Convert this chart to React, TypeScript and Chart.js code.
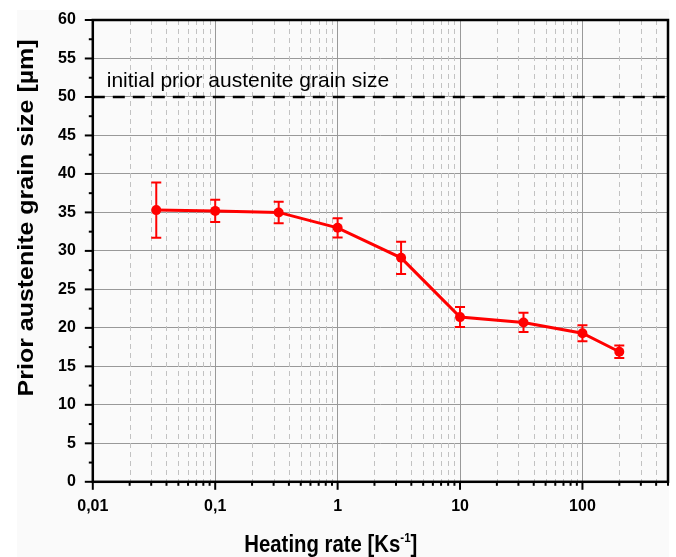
import React, { useEffect, useRef } from 'react';
import { Chart, registerables } from 'chart.js';

Chart.register(...registerables);

// ---- data ----
const heatingRates = [0.033, 0.1, 0.33, 1, 3.3, 10, 33, 100, 200];
const grainSizes = [35.3, 35.2, 35.0, 33.0, 29.1, 21.4, 20.7, 19.3, 16.9];
const grainErrors = [3.6, 1.45, 1.4, 1.25, 2.1, 1.3, 1.25, 1.05, 0.8];
const initialGrainSize = 50;
const initialLabel = 'initial prior austenite grain size';
const xMajorTicks = [0.01, 0.1, 1, 10, 100];
const xTickLabels = ['0,01', '0,1', '1', '10', '100'];
const xMin = 0.01;
const xMax = 500;
const yMin = 0;
const yMax = 60;
const yStep = 5;
const yMinorStep = 2.5;
const xTitleMain = 'Heating rate [Ks';
const xTitleSup = '-1';
const xTitleEnd = ']';
const yTitle = 'Prior austenite grain size [µm]';

const FONT = "'Liberation Sans', Arial, sans-serif";

const xMinorTicks: number[] = [];
xMajorTicks.forEach((d) => {
  for (let m = 2; m <= 9; m++) {
    const v = +(m * d).toPrecision(6);
    if (v <= xMax) xMinorTicks.push(v);
  }
});
const allXTicks = [...xMajorTicks, ...xMinorTicks].sort((a, b) => a - b);

const majorIndex = (v: number) =>
  xMajorTicks.findIndex((m) => Math.abs(Math.log10(v) - Math.log10(m)) < 1e-6);

const decorPlugin = {
  id: 'decor',
  beforeDraw(chart: any) {
    const { ctx, width, height } = chart;
    ctx.save();
    ctx.fillStyle = '#ffffff';
    ctx.fillRect(0, 0, width, height);
    ctx.fillStyle = '#fafafa';
    ctx.fillRect(17, 10, 652, height - 10);
    ctx.restore();
  },
  beforeDatasetsDraw(chart: any) {
    const { ctx, chartArea: a } = chart;
    const x = chart.scales.x;
    ctx.save();
    ctx.strokeStyle = '#c2c2c2';
    ctx.lineWidth = 1;
    ctx.setLineDash([5, 4]);
    for (const v of xMinorTicks) {
      const px = Math.round(x.getPixelForValue(v)) + 0.5;
      ctx.beginPath();
      ctx.moveTo(px, a.top);
      ctx.lineTo(px, a.bottom);
      ctx.stroke();
    }
    ctx.restore();
  },
  afterDatasetsDraw(chart: any) {
    const { ctx, chartArea: a } = chart;
    const x = chart.scales.x;
    const y = chart.scales.y;
    ctx.save();
    // error bars
    ctx.strokeStyle = '#ff0000';
    ctx.lineWidth = 2;
    heatingRates.forEach((hr, i) => {
      const px = x.getPixelForValue(hr);
      const top = y.getPixelForValue(grainSizes[i] + grainErrors[i]);
      const bot = y.getPixelForValue(grainSizes[i] - grainErrors[i]);
      ctx.beginPath();
      ctx.moveTo(px, top);
      ctx.lineTo(px, bot);
      ctx.moveTo(px - 5, top);
      ctx.lineTo(px + 5, top);
      ctx.moveTo(px - 5, bot);
      ctx.lineTo(px + 5, bot);
      ctx.stroke();
    });
    // annotation text
    ctx.fillStyle = '#000';
    ctx.font = `21px ${FONT}`;
    ctx.textAlign = 'left';
    ctx.textBaseline = 'alphabetic';
    ctx.fillText(initialLabel, x.getPixelForValue(0.013), y.getPixelForValue(51.3));
    // box
    ctx.strokeStyle = '#000';
    ctx.lineWidth = 2.5;
    ctx.strokeRect(a.left, a.top, a.right - a.left, a.bottom - a.top);
    ctx.restore();
  },
  afterDraw(chart: any) {
    const { ctx, chartArea: a } = chart;
    const x = chart.scales.x;
    const y = chart.scales.y;
    ctx.save();
    ctx.strokeStyle = '#000';
    ctx.lineWidth = 2;
    // x ticks
    for (const v of allXTicks) {
      const px = x.getPixelForValue(v);
      const len = majorIndex(v) >= 0 ? 8 : 4;
      ctx.beginPath();
      ctx.moveTo(px, a.bottom);
      ctx.lineTo(px, a.bottom + len);
      ctx.stroke();
    }
    // y ticks
    for (let v = yMin; v <= yMax + 1e-9; v += yMinorStep) {
      const py = y.getPixelForValue(v);
      const len = Math.abs(v / yStep - Math.round(v / yStep)) < 1e-6 ? 8 : 4;
      ctx.beginPath();
      ctx.moveTo(a.left, py);
      ctx.lineTo(a.left - len, py);
      ctx.stroke();
    }
    // x title (with superscript)
    ctx.fillStyle = '#000';
    const big = `bold 23px ${FONT}`;
    const small = `bold 13px ${FONT}`;
    ctx.textBaseline = 'alphabetic';
    ctx.font = big;
    const w1 = ctx.measureText(xTitleMain).width;
    const w3 = ctx.measureText(xTitleEnd).width;
    ctx.font = small;
    const w2 = ctx.measureText(xTitleSup).width;
    const total = w1 + w2 + w3;
    const targetW = 173;
    const sxScale = targetW / total;
    ctx.save();
    ctx.translate(a.left + 238 - targetW / 2, a.bottom + 70);
    ctx.scale(sxScale, 1);
    ctx.textAlign = 'left';
    ctx.font = big;
    ctx.fillText(xTitleMain, 0, 0);
    ctx.font = small;
    ctx.fillText(xTitleSup, w1, -10);
    ctx.font = big;
    ctx.fillText(xTitleEnd, w1 + w2, 0);
    ctx.restore();

    // y title
    ctx.save();
    ctx.translate(a.left - 66, (a.top + a.bottom) / 2 - 33);
    ctx.rotate(-Math.PI / 2);
    ctx.font = `bold 22px ${FONT}`;
    const wy = ctx.measureText(yTitle).width;
    ctx.scale(357 / wy, 1);
    ctx.textAlign = 'center';
    ctx.textBaseline = 'middle';
    ctx.fillText(yTitle, 0, 0);
    ctx.restore();
    ctx.restore();
  },
};

export default function App() {
  const ref = useRef<HTMLCanvasElement | null>(null);
  useEffect(() => {
    if (!ref.current) return;
    const chart = new Chart(ref.current, {
      type: 'line',
      data: {
        datasets: [
          {
            label: 'grain size',
            data: heatingRates.map((hr, i) => ({ x: hr, y: grainSizes[i] })),
            borderColor: '#ff0000',
            backgroundColor: '#ff0000',
            borderWidth: 3,
            pointRadius: 5,
            pointHoverRadius: 5,
            pointBorderWidth: 0,
          },
          {
            label: 'initial',
            data: [
              { x: xMin, y: initialGrainSize },
              { x: xMax, y: initialGrainSize },
            ],
            borderColor: '#000000',
            borderWidth: 2.5,
            borderDash: [12, 8],
            pointRadius: 0,
          },
        ],
      },
      options: {
        animation: false,
        responsive: false,
        maintainAspectRatio: false,
        layout: { autoPadding: false, padding: { left: 41, right: 8, top: 20, bottom: 26 } },
        plugins: { legend: { display: false }, tooltip: { enabled: false } },
        scales: {
          x: {
            type: 'logarithmic',
            min: xMin,
            max: xMax,
            afterBuildTicks: (s: any) => {
              s.ticks = allXTicks.map((v) => ({ value: v }));
            },
            afterFit: (s: any) => {
              s.paddingLeft = 0;
              s.paddingRight = 0;
            },
            ticks: {
              autoSkip: false,
              maxRotation: 0,
              minRotation: 0,
              padding: 15,
              color: '#000',
              font: { family: FONT, size: 16, weight: 'bold' },
              callback: (v: any) => {
                const i = majorIndex(Number(v));
                return i >= 0 ? xTickLabels[i] : '';
              },
            },
            grid: {
              drawTicks: false,
              color: (c: any) =>
                c.tick && majorIndex(c.tick.value) >= 0 ? '#999999' : 'rgba(0,0,0,0)',
              lineWidth: 1,
            },
            border: { display: false },
          },
          y: {
            min: yMin,
            max: yMax,
            afterFit: (s: any) => {
              s.paddingTop = 0;
              s.paddingBottom = 0;
            },
            ticks: {
              stepSize: yStep,
              padding: 17,
              color: '#000',
              font: { family: FONT, size: 16, weight: 'bold' },
            },
            grid: { drawTicks: false, color: '#999999', lineWidth: 1 },
            border: { display: false },
          },
        },
      },
      plugins: [decorPlugin],
    } as any);
    return () => chart.destroy();
  }, []);
  return (
    <div style={{ position: 'fixed', left: 0, top: 0, width: 676, height: 557 }}>
      <canvas ref={ref} width={676} height={557} style={{ display: 'block' }} />
    </div>
  );
}
